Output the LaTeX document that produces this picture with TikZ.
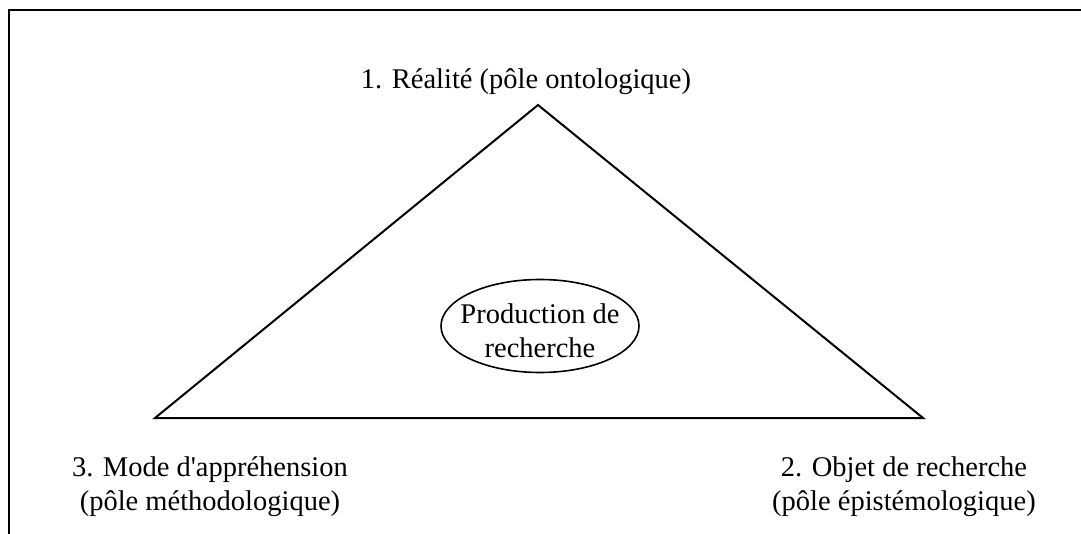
\documentclass[tikz,border=0pt]{standalone}
\usepackage{fontspec}
\setmainfont{Liberation Serif}
\usetikzlibrary{shapes.geometric}
\begin{document}
\begin{tikzpicture}[x=1pt,y=-1pt,
  lbl/.style={font=\fontsize{28.5}{33.5}\selectfont, align=center, inner sep=0pt},
  frame/.style={line width=2pt},
  tri/.style={line width=2pt, line join=miter},
  oval/.style={ellipse, draw, line width=1.6pt, inner sep=0pt, minimum width=198pt, minimum height=93pt}]
\useasboundingbox (0,0) rectangle (1081,534);
\coordinate (f1) at (9,534);
\coordinate (f2) at (9,10);
\coordinate (f3) at (1081,10);
\draw[frame] (f1) -- (f2) -- (f3);
\coordinate (A) at (538,105);
\coordinate (B) at (155,418);
\coordinate (C) at (923,418);
\draw[tri] (A) -- (B) -- (C) -- cycle;
\node[oval] (P) at (540,326) {};
\node[lbl, anchor=base] (Pt) at (540,357) {Production de\\recherche};
\node[lbl, anchor=base] (t1) at (526,89) {1. Réalité (pôle ontologique)};
\node[lbl, anchor=base] (t3) at (210,510) {3. Mode d\textquotesingle appréhension\\(pôle méthodologique)};
\node[lbl, anchor=base] (t2) at (904,510) {2. Objet de recherche\\(pôle épistémologique)};
\end{tikzpicture}
\end{document}
